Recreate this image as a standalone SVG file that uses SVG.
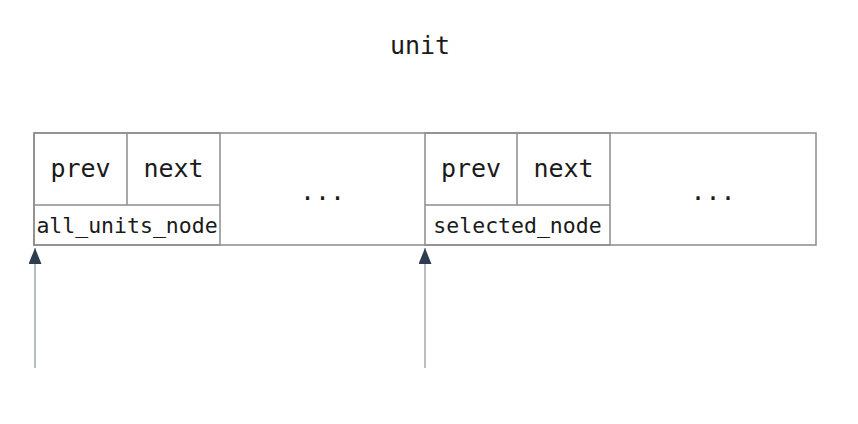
<svg xmlns="http://www.w3.org/2000/svg" width="858" height="424" viewBox="0 0 858 424">
<style>
.t{font-family:"DejaVu Sans Mono","Liberation Mono",monospace;fill:#1a1a1a;text-anchor:middle}
.big{font-size:25px}
.sm{font-size:21.5px}
.cell{fill:none;stroke:#8c8c8c;stroke-width:1.5}
.conn{stroke:#a8aeb4;stroke-width:1.6;fill:none}
</style>
<defs>
<marker id="ah" viewBox="0 0 16 13" refX="16" refY="6.5" markerWidth="16" markerHeight="13" markerUnits="userSpaceOnUse" orient="auto">
<path d="M0,0 L16,6.5 L0,13 Z" fill="#2c3e50"/>
</marker>
</defs>
<rect width="858" height="424" fill="#fff"/>
<text class="t big" x="420" y="54">unit</text>
<g id="unit">
<rect class="cell" x="34" y="133" width="782" height="112"/>
</g>
<g id="all_units_node">
<rect class="cell" x="34" y="133" width="186" height="112"/>
<line class="cell" x1="34" y1="205" x2="220" y2="205"/>
<line class="cell" x1="127" y1="133" x2="127" y2="205"/>
<text class="t big" x="80.5" y="177">prev</text>
<text class="t big" x="173.5" y="177">next</text>
<text class="t sm" x="127" y="233">all_units_node</text>
</g>
<g id="rest1">
<text class="t big" x="322.5" y="200">...</text>
</g>
<g id="selected_node">
<rect class="cell" x="425" y="133" width="185" height="112"/>
<line class="cell" x1="425" y1="205" x2="610" y2="205"/>
<line class="cell" x1="517" y1="133" x2="517" y2="205"/>
<text class="t big" x="471" y="177">prev</text>
<text class="t big" x="563.5" y="177">next</text>
<text class="t sm" x="517.5" y="233">selected_node</text>
</g>
<g id="rest2">
<text class="t big" x="713" y="200">...</text>
</g>
<g id="connectors">
<line class="conn" x1="35" y1="368" x2="35" y2="248" marker-end="url(#ah)"/>
<line class="conn" x1="425" y1="368" x2="425" y2="248" marker-end="url(#ah)"/>
</g>
</svg>
